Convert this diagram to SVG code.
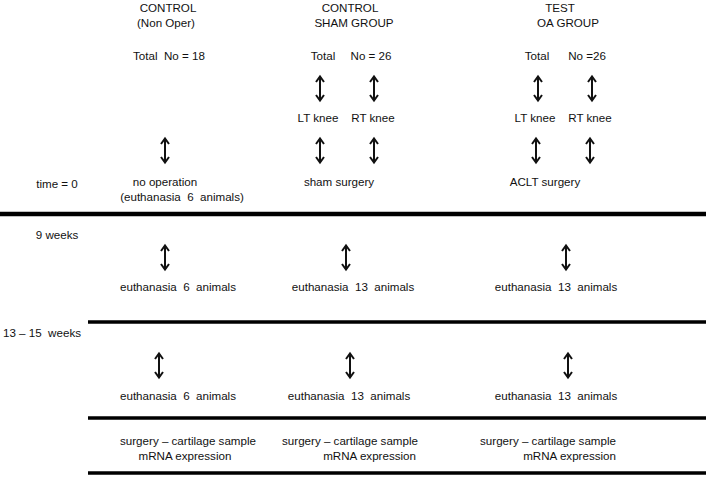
<svg xmlns="http://www.w3.org/2000/svg" width="706" height="484" viewBox="0 0 706 484" xml:space="preserve">
<style>
text{font-family:"Liberation Sans",Arial,sans-serif;font-size:11.6px;fill:#111;white-space:pre}
.m{text-anchor:middle}
.e{text-anchor:end}
.ar{fill:none;stroke:#111;stroke-width:2;stroke-linecap:butt;stroke-linejoin:miter}
.rule{stroke:#000;stroke-width:3.5}
</style>
<defs>
<path id="dbl" class="ar" d="M0,1 V24 M-4,6 L0,0.5 L4,6 M-4,19 L0,24.5 L4,19"/>
</defs>
<rect width="706" height="484" fill="#fff"/>
<g id="rules">
<line class="rule" x1="0" y1="214" x2="706" y2="214" style="stroke-width:4.5"/>
<line class="rule" x1="88" y1="322" x2="706" y2="322"/>
<line class="rule" x1="88" y1="418" x2="706" y2="418"/>
<line class="rule" x1="88" y1="473" x2="706" y2="473"/>
</g>
<g id="connectors">
<use href="#dbl" x="320" y="76"/>
<use href="#dbl" x="374" y="76"/>
<use href="#dbl" x="538" y="76"/>
<use href="#dbl" x="592" y="76"/>
<use href="#dbl" x="165" y="138"/>
<use href="#dbl" x="320" y="138"/>
<use href="#dbl" x="374" y="138"/>
<use href="#dbl" x="536" y="138"/>
<use href="#dbl" x="590" y="138"/>
<use href="#dbl" x="165" y="245"/>
<use href="#dbl" x="346" y="245"/>
<use href="#dbl" x="566" y="245"/>
<use href="#dbl" x="159" y="353"/>
<use href="#dbl" x="350" y="353"/>
<use href="#dbl" x="568" y="353"/>
</g>
<g id="timeline">
<text class="m" x="57" y="188">time = 0</text>
<text class="m" x="57" y="239">9 weeks</text>
<text x="3" y="337">13 – 15  weeks</text>
</g>
<g id="control">
<text class="m" x="168" y="12">CONTROL</text>
<text class="m" x="166" y="27">(Non Oper)</text>
<text class="m" x="169" y="60">Total  No = 18</text>
<text class="m" x="165" y="186">no operation</text>
<text class="m" x="182" y="201">(euthanasia  6  animals)</text>
<text class="m" x="178" y="291">euthanasia  6  animals</text>
<text class="m" x="178" y="400">euthanasia  6  animals</text>
<text class="m" x="188" y="445">surgery – cartilage sample</text>
<text class="m" x="185" y="460">mRNA expression</text>
</g>
<g id="sham">
<text class="m" x="350" y="12">CONTROL</text>
<text class="m" x="354" y="27">SHAM GROUP</text>
<text class="m" x="323" y="60">Total</text>
<text class="m" x="371" y="60">No = 26</text>
<text class="m" x="318" y="122">LT knee</text>
<text class="m" x="373" y="122">RT knee</text>
<text class="m" x="339" y="186">sham surgery</text>
<text class="m" x="353" y="291">euthanasia  13  animals</text>
<text class="m" x="349" y="400">euthanasia  13  animals</text>
<text class="e" x="418" y="445">surgery – cartilage sample</text>
<text class="e" x="416" y="460">mRNA expression</text>
</g>
<g id="test">
<text class="m" x="560" y="12">TEST</text>
<text class="m" x="568" y="27">OA GROUP</text>
<text class="m" x="537" y="60">Total</text>
<text class="m" x="587" y="60">No =26</text>
<text class="m" x="535" y="122">LT knee</text>
<text class="m" x="590" y="122">RT knee</text>
<text class="m" x="545" y="186">ACLT surgery</text>
<text class="m" x="556" y="291">euthanasia  13  animals</text>
<text class="m" x="556" y="400">euthanasia  13  animals</text>
<text class="e" x="616" y="445">surgery – cartilage sample</text>
<text class="e" x="616" y="460">mRNA expression</text>
</g>
</svg>
